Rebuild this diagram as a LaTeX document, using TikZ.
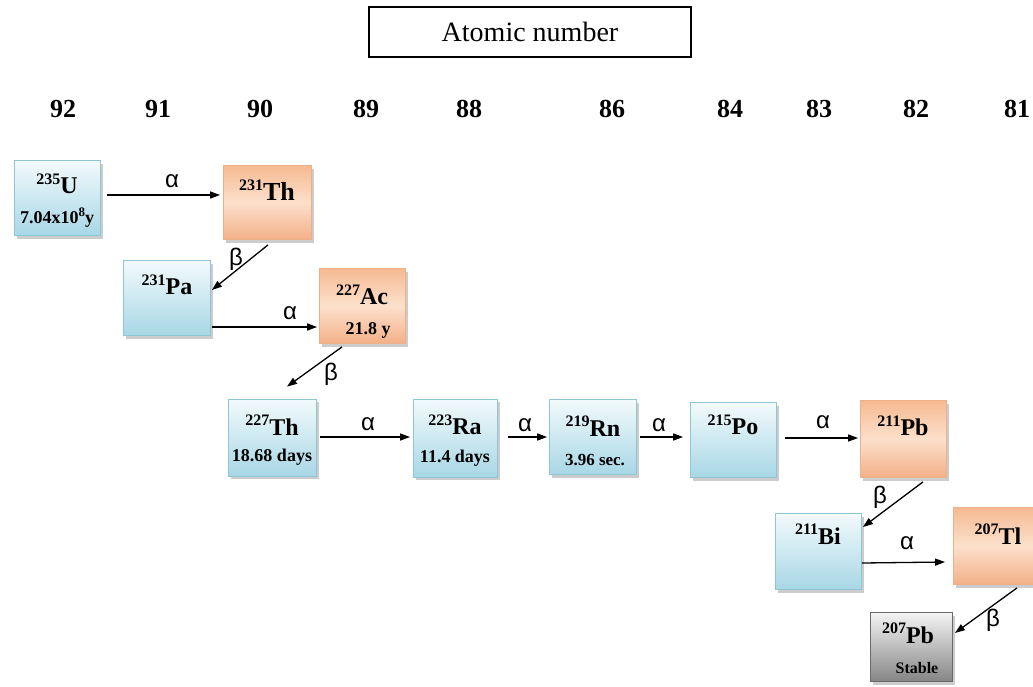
\documentclass[tikz,border=0pt]{standalone}
\usepackage{fontspec}
\setmainfont{LiberationSerif}[Extension=.ttf, UprightFont=*-Regular, BoldFont=*-Bold, ItalicFont=*-Italic, BoldItalicFont=*-BoldItalic]
\newfontfamily\grkfont{Liberation Sans}
\usetikzlibrary{arrows.meta,shadows,calc}
\definecolor{bluetop}{HTML}{F2FAFC}
\definecolor{bluebot}{HTML}{A8D7E5}
\definecolor{blueline}{HTML}{8EC6D6}
\definecolor{ortop}{HTML}{F6BA92}
\definecolor{ormid}{HTML}{FCE0CC}
\definecolor{orbot}{HTML}{F4B088}
\definecolor{orline}{HTML}{EDB189}
\definecolor{grtop}{HTML}{F4F4F4}
\definecolor{grbot}{HTML}{858585}
\definecolor{grline}{HTML}{6A6A6A}
\newcommand{\isot}[2]{\raisebox{0.4em}{\fontsize{16}{16}\selectfont #1}#2}
\begin{document}
\begin{tikzpicture}[x=1pt,y=-1pt,
  box/.style={rectangle, inner sep=0pt, line width=0.8pt,
    drop shadow={shadow xshift=2.5pt, shadow yshift=-3pt, opacity=0.4, fill=black!50}},
  bluebox/.style={box, draw=blueline, top color=bluetop, bottom color=bluebot},
  orbox/.style={box, draw=orline, top color=ortop, bottom color=orbot, middle color=ormid},
  grbox/.style={box, draw=grline, top color=grtop, bottom color=grbot},
  iso/.style={inner sep=0pt, font=\fontsize{24}{24}\selectfont\bfseries},
  sub/.style={inner sep=0pt, font=\fontsize{18}{18}\selectfont\bfseries},
  num/.style={inner sep=0pt, font=\fontsize{26}{26}\selectfont\bfseries},
  grk/.style={inner sep=0pt, font=\grkfont\fontsize{24}{24}\selectfont},
  arr/.style={line width=1.3pt, -{Triangle[length=10pt,width=7pt]}}]
\useasboundingbox (0,0) rectangle (1033,686);

% title
\node[draw, line width=1.3pt, minimum width=322pt, minimum height=50pt, inner sep=0pt,
  font=\fontsize{28}{28}\selectfont] (title) at (530,32) {Atomic number};

% atomic numbers
\node[num] (n92) at (63,109) {92};
\node[num] (n91) at (158,109) {91};
\node[num] (n90) at (260,109) {90};
\node[num] (n89) at (366,109) {89};
\node[num] (n88) at (469,109) {88};
\node[num] (n86) at (612,109) {86};
\node[num] (n84) at (730,109) {84};
\node[num] (n83) at (819,109) {83};
\node[num] (n82) at (916,109) {82};
\node[num] (n81) at (1017,109) {81};

% boxes
\node[bluebox, minimum width=86pt, minimum height=75pt] (U) at (57,198) {};
\node[orbox, minimum width=88pt, minimum height=74pt] (Th) at (267.5,202.5) {};
\node[bluebox, minimum width=87pt, minimum height=75pt] (Pa) at (167,298) {};
\node[orbox, minimum width=86pt, minimum height=75pt] (Ac) at (362.5,306) {};
\node[bluebox, minimum width=88pt, minimum height=77pt] (T7) at (272.5,437.5) {};
\node[bluebox, minimum width=84pt, minimum height=78pt] (Ra) at (455.5,438) {};
\node[bluebox, minimum width=87pt, minimum height=75pt] (Rn) at (593,437) {};
\node[bluebox, minimum width=86pt, minimum height=75pt] (Po) at (733.5,440) {};
\node[orbox, minimum width=86pt, minimum height=77pt] (Pb) at (903.5,439) {};
\node[bluebox, minimum width=86pt, minimum height=76pt] (Bi) at (818.5,551.5) {};
\node[orbox, minimum width=86pt, minimum height=77pt] (Tl) at (996.5,546) {};
\node[grbox, minimum width=82pt, minimum height=69pt] (Pf) at (911.5,647) {};

% box texts
\node[iso] (Ut) at (57,184) {\isot{235}{U}};
\node[sub] (Us) at (57,218) {7.04x10\raisebox{0.4em}{\fontsize{13}{13}\selectfont 8}y};
\node[iso, font=\fontsize{26}{26}\selectfont\bfseries] (Tht) at (267,190) {\isot{231}{Th}};
\node[iso] (Pat) at (167,285) {\isot{231}{Pa}};
\node[iso] (Act) at (362,295) {\isot{227}{Ac}};
\node[sub] (Acs) at (368,330) {21.8 y};
\node[iso] (T7t) at (272,425) {\isot{227}{Th}};
\node[sub] (T7s) at (272,457) {18.68 days};
\node[iso] (Rat) at (455,425) {\isot{223}{Ra}};
\node[sub] (Ras) at (455,458) {11.4 days};
\node[iso] (Rnt) at (593,426) {\isot{219}{Rn}};
\node[sub, font=\fontsize{17}{17}\selectfont\bfseries] (Rns) at (595,460) {3.96 sec.};
\node[iso] (Pot) at (733,425) {\isot{215}{Po}};
\node[iso] (Pbt) at (903,426) {\isot{211}{Pb}};
\node[iso] (Bit) at (818,534) {\isot{211}{Bi}};
\node[iso] (Tlt) at (998,534) {\isot{207}{Tl}};
\node[iso] (Pft) at (908,633) {\isot{207}{Pb}};
\node[sub, font=\fontsize{16}{16}\selectfont\bfseries] (Pfs) at (917,668) {Stable};

% arrows
\draw[arr] ($(U.east)+(6.5,-3)$) -- ($(Th.west)+(-3,-7.5)$);
\draw[arr] ($(Th.south)+(0.5,5)$) -- ($(Pa.east)+(1,-8)$);
\draw[arr] ($(Pa.east)+(1,29)$) -- ($(Ac.west)+(-2,21)$);
\draw[arr] ($(Ac.south)+(-20.5,3)$) -- ($(T7.north)+(14.5,-12)$);
\draw[arr] ($(T7.east)+(3,-0.5)$) -- ($(Ra.west)+(-3,-1)$);
\draw[arr] ($(Ra.east)+(10,-1)$) -- ($(Rn.west)+(-2,0)$);
\draw[arr] ($(Rn.east)+(3,0)$) -- ($(Po.west)+(-7,-3)$);
\draw[arr] ($(Po.east)+(8,-2)$) -- ($(Pb.west)+(-2,-1)$);
\draw[arr] ($(Pb.south)+(19.5,4)$) -- ($(Bi.east)+(1,-24.5)$);
\draw[arr] ($(Bi.east)+(0,11.5)$) -- ($(Tl.west)+(-8,16)$);
\draw[arr] ($(Tl.south)+(20.5,3)$) -- ($(Pf.east)+(2,-14)$);

% decay labels
\node[grk] (a1) at (172,181) {α};
\node[grk] (b1) at (236,259) {β};
\node[grk] (a2) at (290,313) {α};
\node[grk] (b2) at (331,374) {β};
\node[grk] (a3) at (368,424) {α};
\node[grk] (a4) at (525,425) {α};
\node[grk] (a5) at (659,425) {α};
\node[grk] (a6) at (823,422) {α};
\node[grk] (b3) at (880,497) {β};
\node[grk] (a7) at (907,543) {α};
\node[grk] (b4) at (993,620) {β};
\end{tikzpicture}
\end{document}
